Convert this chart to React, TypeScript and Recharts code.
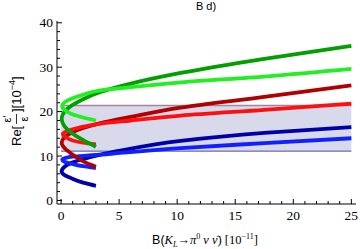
import React from 'react';
import { LineChart, Line, XAxis, YAxis, ReferenceArea, ReferenceLine } from 'recharts';

// tick values
const xTickValues = [0,1,2,3,4,5,6,7,8,9,10,11,12,13,14,15,16,17,18,19,20,21,22,23,24,25];
const xMajorTicks = [0,5,10,15,20,25];
const yTickValues = [0,2,4,6,8,10,12,14,16,18,20,22,24,26,28,30,32,34,36,38,40];
const yMajorTicks = [0,10,20,30,40];

// band (experimental range)
const bandB = [0, 25];
const bandV = [11.1, 21.4];

// curves: B(KL->pi0 nu nubar) and Re(eps'/eps), ordered by increasing Re(eps'/eps)
const darkBlueB = [3, 1.9, 0.8, 0.3, 0.05, 0.3, 0.8, 1.9, 3.4, 5.1, 10.3, 17.5, 25];
const darkBlueV = [3.3, 4.0, 5.1, 5.7, 6.5, 7.6, 8.4, 9.3, 10.3, 11.2, 13.4, 15.2, 16.5];
const blueB = [3, 1.9, 1.0, 0.3, 0.1, 0.4, 1.0, 1.9, 3.4, 5.1, 10.3, 17.5, 25];
const blueV = [7.3, 7.7, 8.2, 8.7, 9.2, 9.6, 9.85, 10.05, 10.3, 10.7, 11.8, 12.9, 14.0];
const darkRedB = [3, 1.9, 0.8, 0.3, 0.05, 0.3, 0.8, 1.9, 3.4, 6, 10.3, 17.5, 25];
const darkRedV = [7.6, 8.8, 10.7, 11.8, 13.0, 14.2, 15.1, 16.3, 17.4, 18.8, 20.9, 23.3, 25.9];
const redB = [3, 1.9, 1.0, 0.4, 0.15, 0.5, 1.0, 1.9, 3.4, 6, 10.3, 17.5, 25];
const redV = [12.6, 13.0, 13.5, 14.2, 15.0, 15.6, 16.0, 16.6, 17.3, 18.0, 19.1, 20.4, 21.8];
const darkGreenB = [3, 1.9, 1.0, 0.3, 0.05, 0.5, 1.0, 1.9, 3.4, 6, 10.3, 17.5, 25];
const darkGreenV = [12.1, 13.6, 15.0, 16.7, 18.4, 20.5, 21.5, 22.8, 24.4, 26.3, 28.7, 31.9, 34.8];
const lightGreenB = [3, 1.6, 0.8, 0.3, 0.08, 0.5, 1.0, 1.9, 3.4, 6, 10.3, 17.5, 25];
const lightGreenV = [18.0, 18.9, 19.6, 20.4, 21.2, 22.4, 23.0, 23.8, 24.8, 25.5, 26.6, 27.9, 29.6];

const toData = (b: number[], v: number[]) => b.map((x, i) => ({ x, y: v[i] }));

const curves = [
  { key: 'db', color: '#0000a8', data: toData(darkBlueB, darkBlueV) },
  { key: 'b', color: '#1020ff', data: toData(blueB, blueV) },
  { key: 'dr', color: '#b00000', data: toData(darkRedB, darkRedV) },
  { key: 'r', color: '#ff1010', data: toData(redB, redV) },
  { key: 'dg', color: '#00a000', data: toData(darkGreenB, darkGreenV) },
  { key: 'lg', color: '#22ee22', data: toData(lightGreenB, lightGreenV) },
];

const X_DOMAIN: [number, number] = [-0.35, 25.4];
const Y_DOMAIN: [number, number] = [-0.8, 40.4];
const numFont = 'Liberation Serif, Times New Roman, serif';

const BottomTick = (p: any) => {
  const v = p.payload.value;
  const major = xMajorTicks.includes(v);
  return (
    <g>
      <line x1={p.x} y1={p.y} x2={p.x} y2={p.y - (major ? 5 : 3)} stroke="#000" strokeWidth={1} />
      {major && (
        <text x={p.x} y={p.y + 15.5} textAnchor="middle" fontSize={13.5} fontFamily={numFont} fill="#000">{v}</text>
      )}
    </g>
  );
};
const TopTick = (p: any) => {
  const v = p.payload.value;
  const major = xMajorTicks.includes(v);
  return <line x1={p.x} y1={p.y} x2={p.x} y2={p.y + (major ? 5 : 3)} stroke="#000" strokeWidth={1} />;
};
const LeftTick = (p: any) => {
  const v = p.payload.value;
  const major = yMajorTicks.includes(v);
  return (
    <g>
      <line x1={p.x} y1={p.y} x2={p.x + (major ? 5 : 3)} y2={p.y} stroke="#000" strokeWidth={1} />
      {major && (
        <text x={p.x - 4} y={p.y + 4.5} textAnchor="end" fontSize={13.5} fontFamily={numFont} fill="#000">{v}</text>
      )}
    </g>
  );
};
const RightTick = (p: any) => {
  const v = p.payload.value;
  const major = yMajorTicks.includes(v);
  return <line x1={p.x} y1={p.y} x2={p.x - (major ? 5 : 3)} y2={p.y} stroke="#000" strokeWidth={1} />;
};

export default function App() {
  return (
    <div style={{ position: 'absolute', left: 0, top: 0, width: 360, height: 249, background: '#fff' }}>
      <LineChart width={360} height={249} margin={{ top: 21, right: 4, bottom: 0, left: 0 }}>
        <XAxis xAxisId="b" type="number" dataKey="x" domain={X_DOMAIN} allowDataOverflow ticks={xTickValues}
          interval={0} tickSize={0} tickMargin={0} tickLine={false} axisLine={{ stroke: '#000' }} height={45}
          tick={(p: any) => <BottomTick {...p} />} />
        <XAxis xAxisId="t" orientation="top" type="number" dataKey="x" domain={X_DOMAIN} allowDataOverflow ticks={xTickValues}
          interval={0} tickSize={0} tickMargin={0} tickLine={false} axisLine={{ stroke: '#000' }} height={0}
          tick={(p: any) => <TopTick {...p} />} />
        <YAxis yAxisId="l" type="number" domain={Y_DOMAIN} allowDataOverflow ticks={yTickValues}
          interval={0} tickSize={0} tickMargin={0} tickLine={false} axisLine={{ stroke: '#000' }} width={57}
          tick={(p: any) => <LeftTick {...p} />} />
        <YAxis yAxisId="r" orientation="right" type="number" domain={Y_DOMAIN} allowDataOverflow ticks={yTickValues}
          interval={0} tickSize={0} tickMargin={0} tickLine={false} axisLine={{ stroke: '#000' }} width={0}
          tick={(p: any) => <RightTick {...p} />} />
        <ReferenceArea xAxisId="b" yAxisId="l" x1={bandB[0]} x2={bandB[1]} y1={bandV[0]} y2={bandV[1]}
          fill="#d9d9ec" fillOpacity={1} stroke="none" />
        <ReferenceLine xAxisId="b" yAxisId="l" segment={[{ x: bandB[0], y: bandV[1] }, { x: bandB[1], y: bandV[1] }]}
          stroke="#a4849f" strokeWidth={1.5} />
        <ReferenceLine xAxisId="b" yAxisId="l" segment={[{ x: bandB[0], y: bandV[0] }, { x: bandB[1], y: bandV[0] }]}
          stroke="#5050a8" strokeWidth={1} />
        {curves.map((c) => (
          <Line key={c.key} xAxisId="b" yAxisId="l" data={c.data} dataKey="y" type="monotoneY"
            stroke={c.color} strokeWidth={3.8} dot={false} activeDot={false} isAnimationActive={false} />
        ))}
      </LineChart>
      <svg width={360} height={249} style={{ position: 'absolute', left: 0, top: 0, pointerEvents: 'none' }}>
        <text x={206} y={10} textAnchor="middle" fontSize={11} fontFamily="Liberation Sans, Arial, sans-serif" fill="#000">B d)</text>
        <text x={205} y={244} textAnchor="middle" fontSize={12.5} fontFamily={numFont} fill="#000">
          <tspan fontFamily="Liberation Sans, Arial, sans-serif">B(</tspan>
          <tspan fontStyle="italic">K</tspan>
          <tspan fontStyle="italic" fontSize={8} dy={3}>L</tspan>
          <tspan dy={-3}>→</tspan>
          <tspan fontStyle="italic">π</tspan>
          <tspan fontSize={8} dy={-5}>0</tspan>
          <tspan dy={5} fontStyle="italic"> ν ν̄</tspan>
          <tspan>) [10</tspan>
          <tspan fontSize={8} dy={-5}>−11</tspan>
          <tspan dy={5}>]</tspan>
        </text>
        <g transform="translate(16,108) rotate(-90)" fontFamily="Liberation Sans, Arial, sans-serif" fill="#000">
          <text x={-38} y={5} fontSize={13}>Re[</text>
          <text x={-11} y={-5} fontSize={11} textAnchor="middle">ε′</text>
          <line x1={-16} y1={0.5} x2={-6} y2={0.5} stroke="#000" strokeWidth={0.8} />
          <text x={-11} y={12} fontSize={11} textAnchor="middle">ε</text>
          <text x={-4} y={5} fontSize={13}>
            <tspan>][10</tspan>
            <tspan fontSize={9} dy={-6}>−4</tspan>
            <tspan dy={6}>]</tspan>
          </text>
        </g>
      </svg>
    </div>
  );
}
